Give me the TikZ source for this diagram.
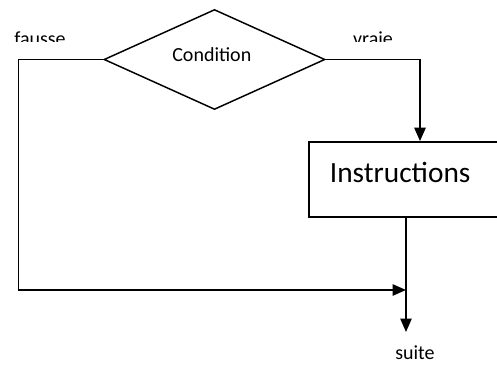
\documentclass[tikz,border=0pt]{standalone}
\usepackage{fontspec}
\setmainfont{Carlito}
\usetikzlibrary{shapes.geometric,arrows.meta,positioning,calc}

\begin{document}
\begin{tikzpicture}[
            x=0.75pt, y=0.75pt,
            test/.style={diamond,draw,line width=1.1pt,inner sep=0pt,
                minimum width=165.75pt,minimum height=75pt},
            bloc/.style={rectangle,draw,line width=1.4pt,inner sep=0pt,
                minimum width=150.75pt,minimum height=56.25pt},
            lbl/.style={font=\fontsize{15}{18}\selectfont,inner sep=0pt},
            flow/.style={line width=1.1pt,-{Triangle[length=10pt,width=8.5pt]}}
        ]
        \useasboundingbox (0,0) rectangle (497,365);

        % Draw blocks %
        \node[test,label={[lbl,yshift=4pt,xshift=-2pt]center:Condition}] (cond) at (214.5,305.5) {};
        \node[bloc,label={[font=\fontsize{22}{26}\selectfont,xshift=-7pt,yshift=5pt]center:Instructions}] (instr) at (409.5,185.5) {};
        \coordinate (j) at (406,75);
        \node[lbl,anchor=base] (suite) at (415,6) {suite};

        % Draw branch labels %
        \begin{scope}
            \clip (0,323) rectangle (497,365);
            \node[lbl,anchor=base] (faux) at (40,319) {fausse};
            \node[lbl,anchor=base] (vrai) at (373,319) {vraie};
        \end{scope}

        % Draw arrows %
        \draw[flow] (cond.east) -| ($(instr.north)+(10.5,0)$);
        \draw[flow] (cond.west) -- ++(-85,0) |- (j);
        \draw[flow] (instr.south -| j) -- ([yshift=9.75pt]suite.north -| j);
\end{tikzpicture}
\end{document}
